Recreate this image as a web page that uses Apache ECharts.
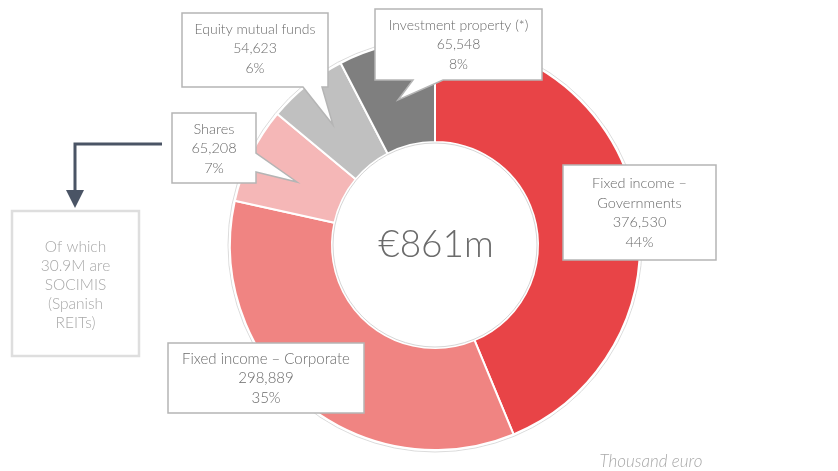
<!DOCTYPE html>
<html>
<head>
<meta charset="utf-8">
<script src="https://cdn.jsdelivr.net/npm/echarts@6/dist/echarts.min.js"></script>
<style>
html,body{margin:0;padding:0;background:#fff;}
#chart{width:838px;height:471px;}
</style>
</head>
<body>
<div id="chart"></div>
<script>
// ---- data ----
var categories = ['Fixed income – Governments', 'Fixed income – Corporate', 'Shares', 'Equity mutual funds', 'Investment property (*)'];
var labelNames = ['Fixed income –\nGovernments', 'Fixed income – Corporate', 'Shares', 'Equity mutual funds', 'Investment property (*)'];
var values = [376530, 298889, 65208, 54623, 65548];
var percentLabels = ['44%', '35%', '7%', '6%', '8%'];
var totalLabel = '€861m';
var noteText = 'Of which\n30.9M are\nSOCIMIS\n(Spanish\nREITs)';
var unitText = 'Thousand euro';

// ---- styles ----
var colors = ['#e84447', '#f08482', '#f5b7b7', '#c0c0c0', '#7f7f7f'];
var FONT = 'Lato, "Open Sans", sans-serif';
var TXT = '#6b6b6b';
var CX = 435, CY = 245;

function fmt(v){ return v.toLocaleString('en-US'); }
function labelText(i){ return labelNames[i] + '\n' + fmt(values[i]) + '\n' + percentLabels[i]; }

// callout shapes (layout only)
var boxShapes = [
  {poly: [[563,165],[716,165],[716,260],[563,260]], c: [639.5, 213], fs: 14.5},
  {poly: [[168,343],[364,343],[364,413],[168,413]], c: [266, 378.5], fs: 15},
  {poly: [[172,113],[256,113],[256,153],[297,182],[256,172],[256,183],[172,183]], c: [214, 148.5], fs: 14.5},
  {poly: [[182,13],[328,13],[328,87],[322,87],[333,125],[303,87],[182,87]], c: [255, 48.5], fs: 14},
  {poly: [[375,9],[542,9],[542,80],[443,80],[398,100],[413,80],[375,80]], c: [458.5, 44.5], fs: 14}
];

var graphics = [];
// outer & inner faint rings
graphics.push({type:'circle', z:1, silent:true, shape:{cx:CX, cy:CY, r:207}, style:{fill:'none', stroke:'#dcdcdc', lineWidth:1}});
graphics.push({type:'circle', z:100, silent:true, shape:{cx:CX, cy:CY, r:102}, style:{fill:'#fff', stroke:'#d6d6d6', lineWidth:1}});
graphics.push({type:'text', z:101, x:CX + 1, y:CY, style:{text: totalLabel, fill:TXT, font:'300 37px ' + FONT, textAlign:'center', textVerticalAlign:'middle'}});

boxShapes.forEach(function(b, i){
  graphics.push({type:'polygon', z:100, silent:true, shape:{points:b.poly}, style:{fill:'#fff', stroke:'#b5b5b5', lineWidth:1.5}});
  graphics.push({type:'text', z:101, x:b.c[0], y:b.c[1], style:{text: labelText(i), fill:TXT, font:'300 ' + b.fs + 'px ' + FONT, lineHeight:19.5, textAlign:'center', textVerticalAlign:'middle'}});
});

// note box and arrow
graphics.push({type:'polyline', z:100, silent:true, shape:{points:[[162,144],[75,144],[75,192]]}, style:{stroke:'#4a5465', lineWidth:3, fill:'none'}});
graphics.push({type:'polygon', z:100, silent:true, shape:{points:[[66,190],[84,190],[75,208]]}, style:{fill:'#4a5465'}});
graphics.push({type:'rect', z:100, silent:true, shape:{x:12, y:211, width:127, height:145}, style:{fill:'#fff', stroke:'#dedede', lineWidth:2.5}});
graphics.push({type:'text', z:101, x:75.5, y:285, style:{text: noteText, fill:'#a8a8a8', font:'300 15.5px ' + FONT, lineHeight:19, textAlign:'center', textVerticalAlign:'middle'}});
graphics.push({type:'text', z:101, x:651, y:462, style:{text: unitText, fill:'#a9a9a9', font:'italic 300 17px ' + FONT, textAlign:'center', textVerticalAlign:'middle'}});

var chart = echarts.init(document.getElementById('chart'));
chart.setOption({
  animation: false,
  backgroundColor: '#fff',
  series: [{
    type: 'pie',
    center: [CX, CY],
    radius: [103, 205],
    startAngle: 90,
    clockwise: true,
    label: {show: false},
    labelLine: {show: false},
    emphasis: {disabled: true},
    itemStyle: {borderColor: '#fff', borderWidth: 2},
    data: categories.map(function(c, i){ return {name: c, value: values[i], itemStyle: {color: colors[i]}}; })
  }],
  graphic: graphics
});
</script>
</body>
</html>
